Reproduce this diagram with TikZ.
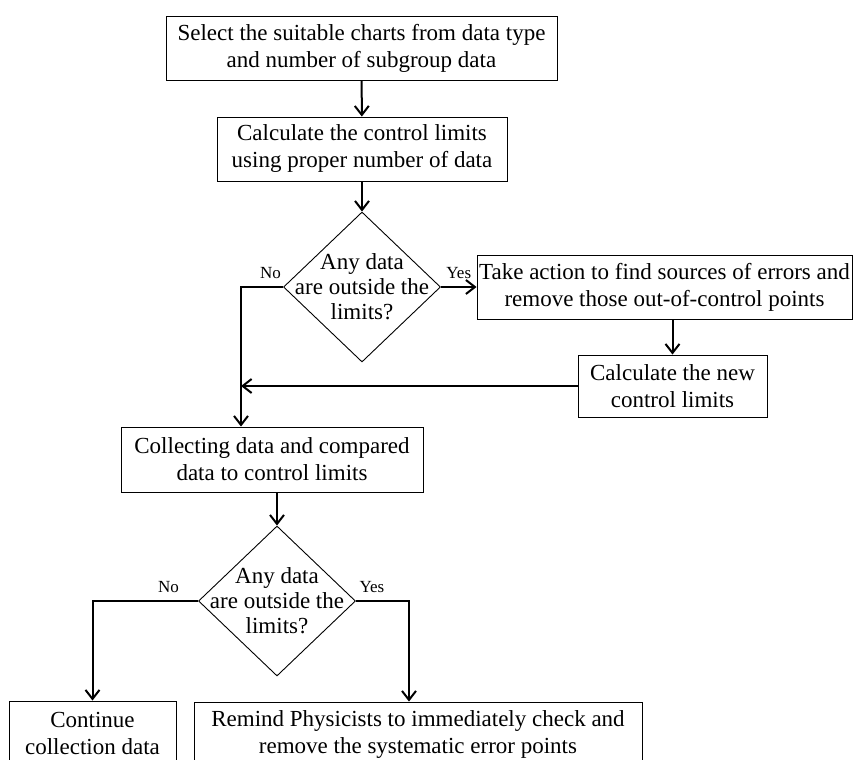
\documentclass[tikz,border=0pt]{standalone}
\usepackage{fontspec}
\setmainfont{Liberation Serif}
\usetikzlibrary{arrows.meta,shapes.geometric}

\begin{document}
\begin{tikzpicture}[x=1pt, y=-1pt,
  box/.style={draw, line width=0.9pt, inner sep=0pt, align=center, font=\fontsize{23}{27}\selectfont},
  decision/.style={draw, diamond, line width=0.9pt, inner sep=0pt, minimum width=157pt, minimum height=150pt},
  qtext/.style={align=center, inner sep=0pt, font=\fontsize{23}{25}\selectfont},
  arr/.style={-{Straight Barb[length=9pt, width=14pt]}, line width=2pt},
  lbl/.style={font=\fontsize{17}{20}\selectfont, above=7pt, inner sep=0pt}
]
\useasboundingbox (0,0) rectangle (854,760);
\clip (0,0) rectangle (854,760);

\node[box, minimum width=391pt, minimum height=64pt] (sel) at (361.5,48) {Select the suitable charts from data type\\ and number of subgroup data};
\node[box, minimum width=290pt, minimum height=64pt] (calc) at (362,149) {Calculate the control limits\\ using proper number of data};
\node[decision] (d1) at (362,287) {};
\node[qtext] (q1) at (d1) {Any data\\ are outside the\\ limits?};
\node[box, minimum width=375pt, minimum height=64pt] (act) at (664.5,287) {Take action to find sources of errors and\\ remove those out-of-control points};
\node[box, minimum width=189pt, minimum height=62pt] (newlim) at (672.5,386) {Calculate the new\\ control limits};
\node[box, minimum width=302pt, minimum height=65pt] (coll) at (272,459.5) {Collecting data and compared\\ data to control limits};
\node[decision] (d2) at (277,601) {};
\node[qtext] (q2) at (d2) {Any data\\ are outside the\\ limits?};
\node[box, minimum width=167pt, minimum height=64pt] (cont) at (92.5,733) {Continue\\ collection data};
\node[box, minimum width=448pt, minimum height=64pt] (remind) at (418,734) {Remind Physicists to immediately check and\\ remove the systematic error points};
\coordinate (j1) at (241,386);

\draw[arr] (sel) -- (calc);
\draw[arr] (calc) -- (d1);
\draw[arr] (d1.east) -- node[lbl]{Yes} (act.west);
\draw[arr] (d1.west) -| node[lbl, pos=0.15]{No} (j1 |- coll.north);
\draw[arr] (newlim |- act.south) -- (newlim.north);
\draw[arr] (newlim.west) -- (j1);
\draw[arr] (d2 |- coll.south) -- (d2.north);
\draw[arr] (d2.west) -| node[lbl, pos=0.14]{No} (cont.north);
\draw[arr] (d2.east) -| node[lbl, pos=0.15]{Yes} ([xshift=-9pt]remind.north);
\end{tikzpicture}
\end{document}
